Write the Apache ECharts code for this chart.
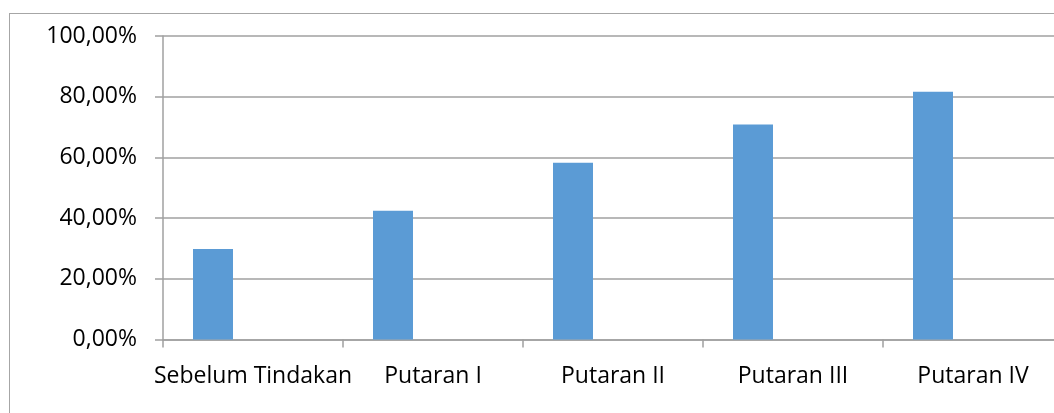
<!DOCTYPE html>
<html>
<head>
<meta charset="utf-8">
<script src="https://cdn.jsdelivr.net/npm/echarts@6/dist/echarts.min.js"></script>
<style>
  html, body { margin: 0; padding: 0; background: #fff; overflow: hidden; width: 1054px; height: 413px; }
  #frame { position: absolute; left: 9px; top: 13px; width: 1100px; height: 450px;
           border-left: 1.5px solid #a6a6a6; border-top: 1.5px solid #a6a6a6; box-sizing: border-box; }
  #chart { position: absolute; left: 0; top: 0; width: 1100px; height: 413px; }
</style>
</head>
<body>
<div id="frame"></div>
<div id="chart"></div>
<script>
// Categories and percentages per round
const categories = ['Sebelum Tindakan', 'Putaran I', 'Putaran II', 'Putaran III', 'Putaran IV'];
const persentase = [29.8, 42.4, 58.2, 70.8, 81.6];
const yTicks = [0, 20, 40, 60, 80, 100];

const chart = echarts.init(document.getElementById('chart'), null, { renderer: 'canvas' });
const fontFamily = 'Open Sans, Noto Sans, sans-serif';

chart.setOption({
  animation: false,
  backgroundColor: 'transparent',
  grid: { left: 163, top: 36, width: 900, height: 303.5, containLabel: false },
  xAxis: {
    type: 'category',
    data: categories,
    axisLine: { show: true, lineStyle: { color: '#a0a0a0', width: 1.5 } },
    axisTick: { show: true, interval: 0, length: 8, lineStyle: { color: '#a0a0a0', width: 1.5 } },
    axisLabel: { interval: 0, color: '#000', fontSize: 23, fontFamily: fontFamily, margin: 25 }
  },
  yAxis: {
    type: 'value',
    min: yTicks[0],
    max: yTicks[yTicks.length - 1],
    interval: 20,
    axisLine: { show: true, lineStyle: { color: '#a0a0a0', width: 1.5 } },
    axisTick: { show: true, length: 8, lineStyle: { color: '#a0a0a0', width: 1.5 } },
    splitLine: { show: true, lineStyle: { color: '#a0a0a0', width: 1.5 } },
    axisLabel: {
      color: '#000', fontSize: 23, fontFamily: fontFamily, margin: 26,
      formatter: v => v.toFixed(2).replace('.', ',') + '%'
    }
  },
  series: [
    { type: 'bar', data: persentase, barWidth: 40, barGap: '0%', barCategoryGap: '33.33%',
      itemStyle: { color: '#5b9bd5' } },
    { type: 'bar', data: [], barWidth: 40 },
    { type: 'bar', data: [], barWidth: 40 }
  ]
});
</script>
</body>
</html>
